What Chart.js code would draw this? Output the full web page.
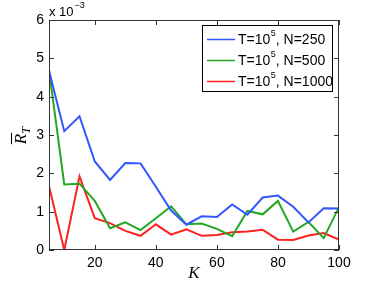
<!DOCTYPE html>
<html>
<head>
<meta charset="utf-8">
<script src="https://cdn.jsdelivr.net/npm/chart.js@4"></script>
<style>
  body { margin: 0; background: #fff; }
  canvas { display: block; }
</style>
</head>
<body>
<canvas id="chart" width="374" height="282"></canvas>
<script>
// K values on the x axis
const kValues = [5, 10, 15, 20, 25, 30, 35, 40, 45, 50, 55, 60, 65, 70, 75, 80, 85, 90, 95, 100];

// mean regret, in units of 1e-3
const regretN250 = [4.68, 3.1, 3.49, 2.31, 1.83, 2.27, 2.26, 1.65, 1.03, 0.66, 0.88, 0.86, 1.19, 0.92, 1.37, 1.42, 1.13, 0.72, 1.09, 1.08];
const regretN500 = [4.7, 1.71, 1.73, 1.28, 0.57, 0.72, 0.52, 0.83, 1.14, 0.67, 0.69, 0.55, 0.36, 1.02, 0.93, 1.28, 0.48, 0.73, 0.31, 1.12];
const regretN1000 = [1.67, 0.0, 1.92, 0.83, 0.70, 0.50, 0.37, 0.67, 0.40, 0.54, 0.37, 0.39, 0.46, 0.48, 0.53, 0.27, 0.26, 0.38, 0.44, 0.27];

const xTicks = [20, 40, 60, 80, 100];
const yTicks = [0, 1, 2, 3, 4, 5, 6];

// legend text: [before superscript, superscript, after]
const legendParts = [
  ['T=10', '5', ', N=250'],
  ['T=10', '5', ', N=500'],
  ['T=10', '5', ', N=1000']
];

const FONT = '"Liberation Sans", Arial, sans-serif';

function toPoints(ys) {
  return kValues.map((k, i) => ({ x: k, y: ys[i] }));
}

// box, inward ticks, legend, and the extra labels matlab puts around the axes
const matlabFrame = {
  id: 'matlabFrame',
  afterDraw(chart) {
    const ctx = chart.ctx;
    const a = chart.chartArea;
    const xs = chart.scales.x, ys = chart.scales.y;
    ctx.save();
    ctx.strokeStyle = '#333';
    ctx.lineWidth = 1;
    ctx.strokeRect(a.left + 0.5, a.top + 0.5, a.right - a.left - 1, a.bottom - a.top - 1);

    const tl = 5;
    ctx.beginPath();
    xTicks.forEach(v => {
      const px = Math.round(xs.getPixelForValue(v)) + 0.5;
      ctx.moveTo(px, a.bottom); ctx.lineTo(px, a.bottom - tl);
      ctx.moveTo(px, a.top); ctx.lineTo(px, a.top + tl);
    });
    yTicks.forEach(v => {
      const py = Math.round(ys.getPixelForValue(v)) + 0.5;
      ctx.moveTo(a.left, py); ctx.lineTo(a.left + tl, py);
      ctx.moveTo(a.right, py); ctx.lineTo(a.right - tl, py);
    });
    ctx.stroke();

    // exponent label above the y axis
    ctx.fillStyle = '#000';
    ctx.textBaseline = 'alphabetic';
    ctx.textAlign = 'left';
    ctx.font = '13px ' + FONT;
    ctx.fillText('x 10', a.left, 16);
    const w = ctx.measureText('x 10').width;
    ctx.font = '9px ' + FONT;
    ctx.fillText('\u22123', a.left + w + 1, 8);

    // x title
    ctx.font = 'italic 17px "Liberation Serif", "Times New Roman", serif';
    ctx.textAlign = 'center';
    ctx.fillText('K', (a.left + a.right) / 2, 278);

    // y title: R with overline, subscript T, rotated
    ctx.save();
    ctx.translate(26, (a.top + a.bottom) / 2);
    ctx.rotate(-Math.PI / 2);
    ctx.textAlign = 'left';
    ctx.font = 'italic 17px "Liberation Serif", "Times New Roman", serif';
    const rw = ctx.measureText('R').width;
    ctx.fillText('R', -rw / 2 - 4, 0);
    ctx.fillRect(-rw / 2 - 4, -15, rw + 1, 1);
    ctx.font = 'italic 12px "Liberation Serif", "Times New Roman", serif';
    ctx.fillText('T', rw / 2 - 4, 4);
    ctx.restore();

    // legend box
    const lx = 202, ly = 25, lw = 130, lh = 66;
    ctx.fillStyle = '#fff';
    ctx.fillRect(lx, ly, lw, lh);
    ctx.strokeStyle = '#000';
    ctx.strokeRect(lx + 0.5, ly + 0.5, lw, lh);
    chart.data.datasets.forEach((ds, i) => {
      const y = 39 + i * 21;
      ctx.strokeStyle = ds.borderColor;
      ctx.lineWidth = 1.5;
      ctx.beginPath();
      ctx.moveTo(207, y + 0.5); ctx.lineTo(235, y + 0.5);
      ctx.stroke();
      const [pre, sup, post] = legendParts[i];
      ctx.fillStyle = '#000';
      ctx.textAlign = 'left';
      ctx.textBaseline = 'middle';
      ctx.font = '14px ' + FONT;
      let x = 238;
      ctx.fillText(pre, x, y + 1);
      x += ctx.measureText(pre).width;
      ctx.font = '9px ' + FONT;
      ctx.fillText(sup, x + 0.5, y - 5);
      x += ctx.measureText(sup).width + 0.5;
      ctx.font = '14px ' + FONT;
      ctx.fillText(post, x, y + 1);
    });
    ctx.restore();
  }
};

const ctx = document.getElementById('chart').getContext('2d');
new Chart(ctx, {
  type: 'line',
  data: {
    datasets: [
      {
        label: 'T=10^5, N=250',
        data: toPoints(regretN250),
        borderColor: '#3355ff',
        borderWidth: 2,
        pointRadius: 0,
        tension: 0
      },
      {
        label: 'T=10^5, N=500',
        data: toPoints(regretN500),
        borderColor: '#22a822',
        borderWidth: 2,
        pointRadius: 0,
        tension: 0
      },
      {
        label: 'T=10^5, N=1000',
        data: toPoints(regretN1000),
        borderColor: '#ff2020',
        borderWidth: 2,
        pointRadius: 0,
        tension: 0
      }
    ]
  },
  options: {
    animation: false,
    responsive: false,
    layout: { padding: { top: 20, right: 35, left: 0, bottom: 0 } },
    plugins: { legend: { display: false }, tooltip: { enabled: false } },
    scales: {
      x: {
        type: 'linear',
        min: 5,
        max: 100,
        afterBuildTicks: s => { s.ticks = xTicks.map(v => ({ value: v })); },
        afterFit: s => { s.height = 32; },
        grid: { display: false, drawTicks: false },
        border: { display: false },
        ticks: { color: '#000', padding: 5, font: { family: FONT, size: 14 } }
      },
      y: {
        min: 0,
        max: 6,
        afterBuildTicks: s => { s.ticks = yTicks.map(v => ({ value: v })); },
        afterFit: s => { s.width = 49; },
        grid: { display: false, drawTicks: false },
        border: { display: false },
        ticks: { color: '#000', padding: 5, font: { family: FONT, size: 14 } }
      }
    }
  },
  plugins: [matlabFrame]
});
</script>
</body>
</html>
